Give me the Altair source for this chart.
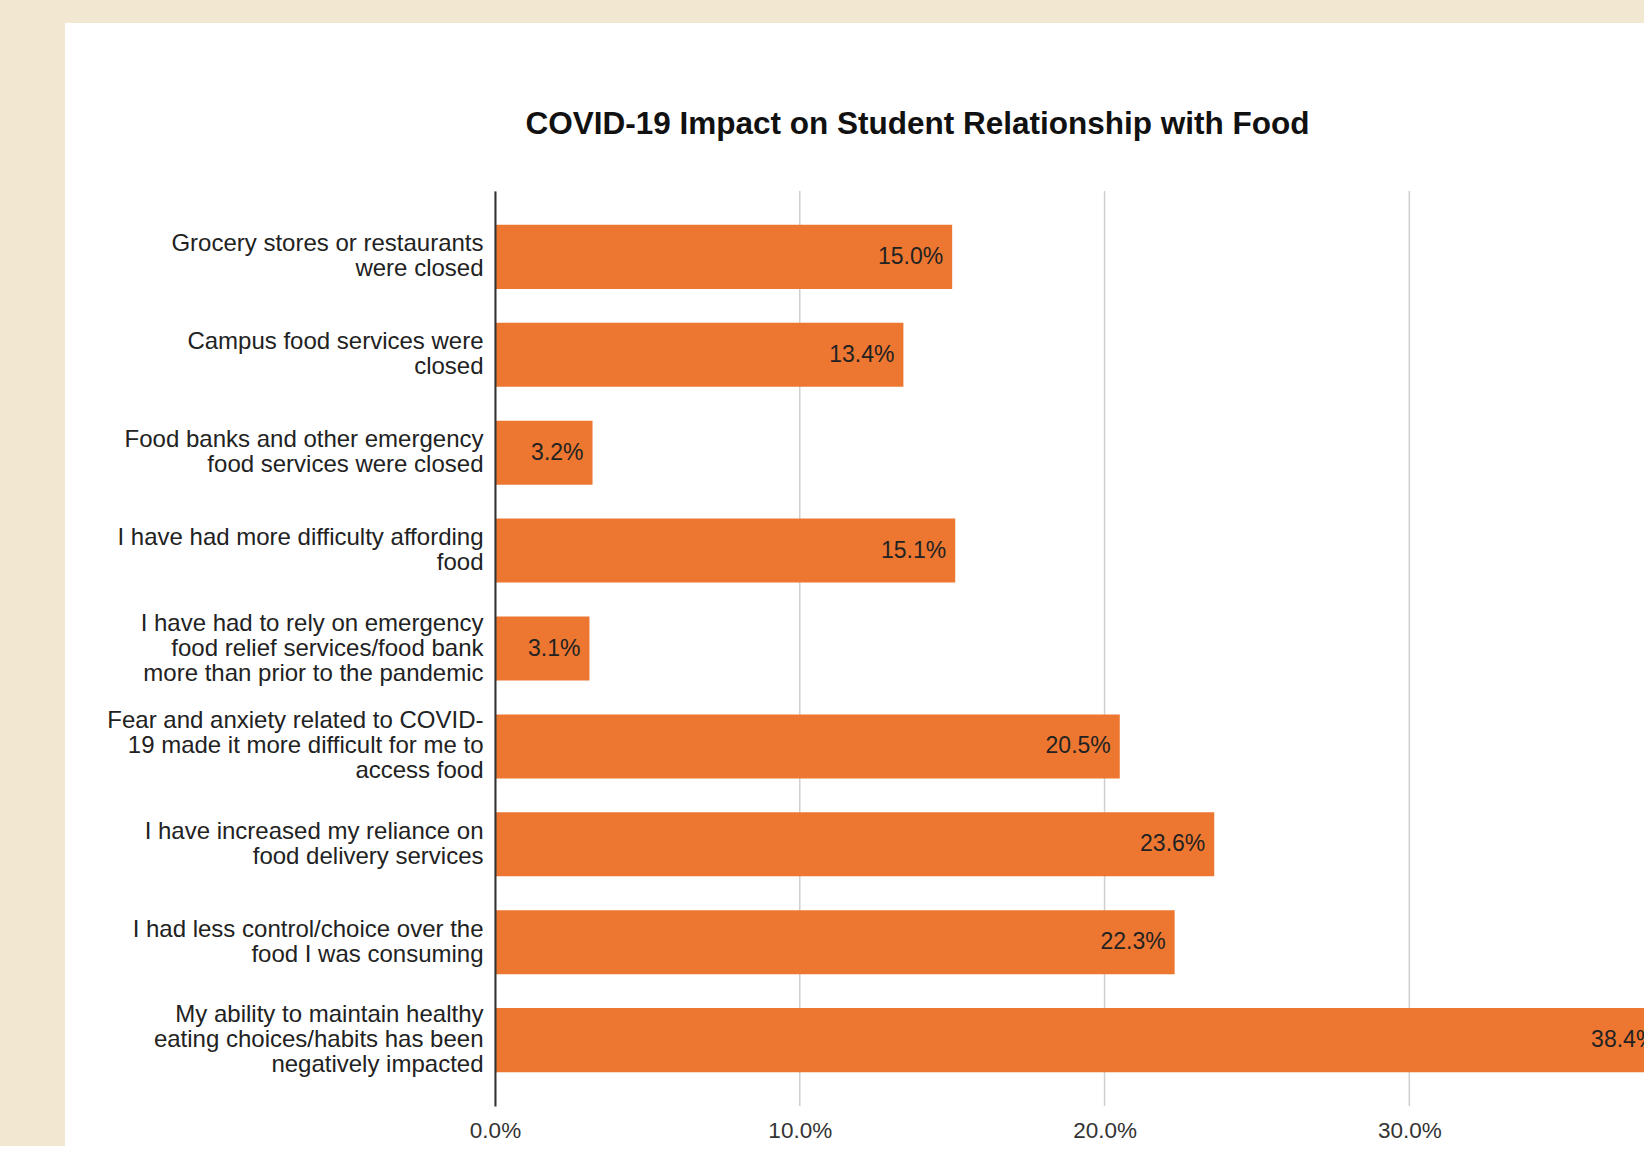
import altair as alt
import pandas as pd

# ---- data ----
categories = [
    "Grocery stores or restaurants|were closed",
    "Campus food services were|closed",
    "Food banks and other emergency|food services were closed",
    "I have had more difficulty affording|food",
    "I have had to rely on emergency|food relief services/food bank|more than prior to the pandemic",
    "Fear and anxiety related to COVID-|19 made it more difficult for me to|access food",
    "I have increased my reliance on|food delivery services",
    "I had less control/choice over the|food I was consuming",
    "My ability to maintain healthy|eating choices/habits has been|negatively impacted",
]
values = [15.0, 13.4, 3.2, 15.1, 3.1, 20.5, 23.6, 22.3, 38.4]
value_labels = ["15.0%", "13.4%", "3.2%", "15.1%", "3.1%", "20.5%", "23.6%", "22.3%", "38.4%"]
grid_ticks = [0, 10, 20, 30]
x_visible_max = 37.7  # the reference is cropped at the right edge

TITLE = "COVID-19 Impact on Student Relationship with Food"

df = pd.DataFrame({"category": categories, "value": values, "label": value_labels})
grid_df = pd.DataFrame({"tick": grid_ticks})
panel_df = pd.DataFrame({"p": [0]})

W, H = 1149, 915
FONT = "Liberation Sans"
ORANGE = "#ED7731"

xscale = alt.Scale(domain=[0, x_visible_max], nice=False, zero=True)
yscale = alt.Scale(paddingInner=0.346, paddingOuter=0.346)

panel = alt.Chart(panel_df).mark_rect(color="white").encode(
    x=alt.value(-430), x2=alt.value(W), y=alt.value(-168), y2=alt.value(H + 40)
)

grid = alt.Chart(grid_df).mark_rule(color="#cfcfcf", strokeWidth=1.5).encode(
    x=alt.X("tick:Q", scale=xscale)
)

base = alt.Chart(df)

nlines = "length(split(datum.value, '|'))"

bars = base.mark_bar(color=ORANGE).encode(
    x=alt.X(
        "value:Q",
        scale=xscale,
        stack=None,
        axis=alt.Axis(
            values=grid_ticks,
            grid=False,
            ticks=False,
            domain=False,
            labelExpr="format(datum.value, '.1f') + '%'",
            labelFont=FONT,
            labelFontSize=22.5,
            labelColor="#333333",
            labelPadding=13,
            labelFlush=False,
            title=None,
            zindex=1,
        ),
    ),
    y=alt.Y(
        "category:N",
        sort=categories,
        scale=yscale,
        axis=alt.Axis(
            title=None,
            labelExpr="split(datum.label, '|')",
            labelFont=FONT,
            labelFontSize=24,
            labelLineHeight=25,
            labelColor="#222222",
            labelPadding=12,
            labelLimit=0,
            labelOffset={
                "condition": [
                    {"test": nlines + " == 3", "value": -25},
                    {"test": nlines + " == 2", "value": -12.5},
                ],
                "value": 0,
            },
            ticks=False,
            domainColor="#333333",
            domainWidth=2,
            zindex=1,
        ),
    ),
)

texts = base.mark_text(
    align="right", baseline="middle", dx=-9, font=FONT, fontSize=23, color="#222222"
).encode(
    x=alt.X("value:Q", scale=xscale),
    y=alt.Y("category:N", sort=categories, scale=yscale),
    text="label:N",
)

chart = (
    alt.layer(panel, grid, bars, texts)
    .properties(
        width=W,
        height=H,
        title=alt.TitleParams(
            TITLE,
            font=FONT,
            fontSize=31.5,
            fontWeight="bold",
            color="#111111",
            anchor="middle",
            frame="group",
            dx=-152,
            offset=0,
            dy=149,
            baseline="bottom",
        ),
        autosize=alt.AutoSizeParams(type="none"),
        padding={"left": 495, "top": 191, "right": 0, "bottom": 40},
        background="#F2E7D0",
    )
    .configure_view(stroke=None)
)

chart.save("out.html", embed_options={"renderer": "svg", "actions": False})
